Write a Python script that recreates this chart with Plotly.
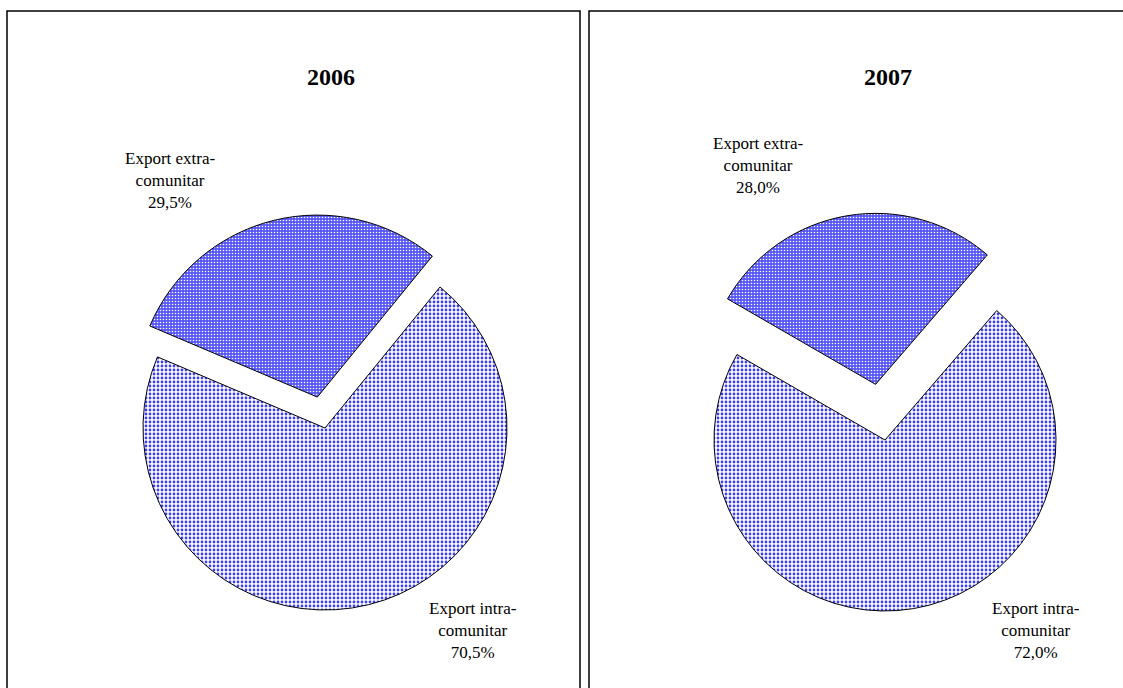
import plotly.graph_objects as go

W, H = 1123, 688

years = ["2006", "2007"]
labels = ["Export extra-comunitar", "Export intra-comunitar"]
label_text = ["Export extra-<br>comunitar", "Export intra-<br>comunitar"]
values_2006 = [29.5, 70.5]
values_2007 = [28.0, 72.0]
pct_text_2006 = ["29,5%", "70,5%"]
pct_text_2007 = ["28,0%", "72,0%"]

def px_x(x):
    return x / W

def px_y(y):
    return 1 - y / H

def pie_domain(cx, cy, r, pull):
    half = r * (1 + pull)
    return dict(x=[px_x(cx - half), px_x(cx + half)],
                y=[px_y(cy + half), px_y(cy - half)])

pattern = dict(
    shape=[".", "."],
    bgcolor=["#5656fa", "#ffffff"],
    fgcolor=["#ffffff", "#3c3cff"],
    size=[3, 4],
    solidity=[0.22, 0.38],
    fillmode="replace",
)

fig = go.Figure()

fig.add_trace(go.Pie(
    labels=labels, values=values_2006, sort=False, direction="clockwise",
    rotation=-67, pull=[0.175, 0], textinfo="none", hoverinfo="label+percent",
    marker=dict(line=dict(color="#000000", width=1), pattern=pattern),
    domain=pie_domain(325, 428, 182, 0.175), showlegend=False,
))
fig.add_trace(go.Pie(
    labels=labels, values=values_2007, sort=False, direction="clockwise",
    rotation=-60, pull=[0.33, 0], textinfo="none", hoverinfo="label+percent",
    marker=dict(line=dict(color="#000000", width=1), pattern=pattern),
    domain=pie_domain(885, 440, 171, 0.33), showlegend=False,
))

font_lbl = dict(family="Liberation Serif, Times New Roman, serif", size=17, color="#000000")
font_title = dict(family="Liberation Serif, Times New Roman, serif", size=24, color="#000000")

annotations = [
    dict(x=px_x(331), y=px_y(77), text="<b>" + years[0] + "</b>", font=font_title),
    dict(x=px_x(888), y=px_y(77), text="<b>" + years[1] + "</b>", font=font_title),
    dict(x=px_x(170), y=px_y(180), text=label_text[0] + "<br>" + pct_text_2006[0], font=font_lbl),
    dict(x=px_x(473), y=px_y(630), text=label_text[1] + "<br>" + pct_text_2006[1], font=font_lbl),
    dict(x=px_x(758), y=px_y(165), text=label_text[0] + "<br>" + pct_text_2007[0], font=font_lbl),
    dict(x=px_x(1036), y=px_y(630), text=label_text[1] + "<br>" + pct_text_2007[1], font=font_lbl),
]
for a in annotations:
    a.update(xref="paper", yref="paper", showarrow=False, xanchor="center", yanchor="middle")

shapes = [
    dict(type="rect", xref="paper", yref="paper", x0=px_x(7), x1=px_x(580), y0=-0.05, y1=px_y(11),
         line=dict(color="#000000", width=1.5)),
    dict(type="rect", xref="paper", yref="paper", x0=px_x(589), x1=1.05, y0=-0.05, y1=px_y(11),
         line=dict(color="#000000", width=1.5)),
]

fig.update_layout(
    width=W, height=H,
    margin=dict(l=0, r=0, t=0, b=0),
    paper_bgcolor="#ffffff", plot_bgcolor="#ffffff",
    annotations=annotations, shapes=shapes,
)

fig.write_html(
    "out.html",
    config={"displayModeBar": False},
    post_script="document.body.style.margin='0';document.body.style.overflow='hidden';",
)
